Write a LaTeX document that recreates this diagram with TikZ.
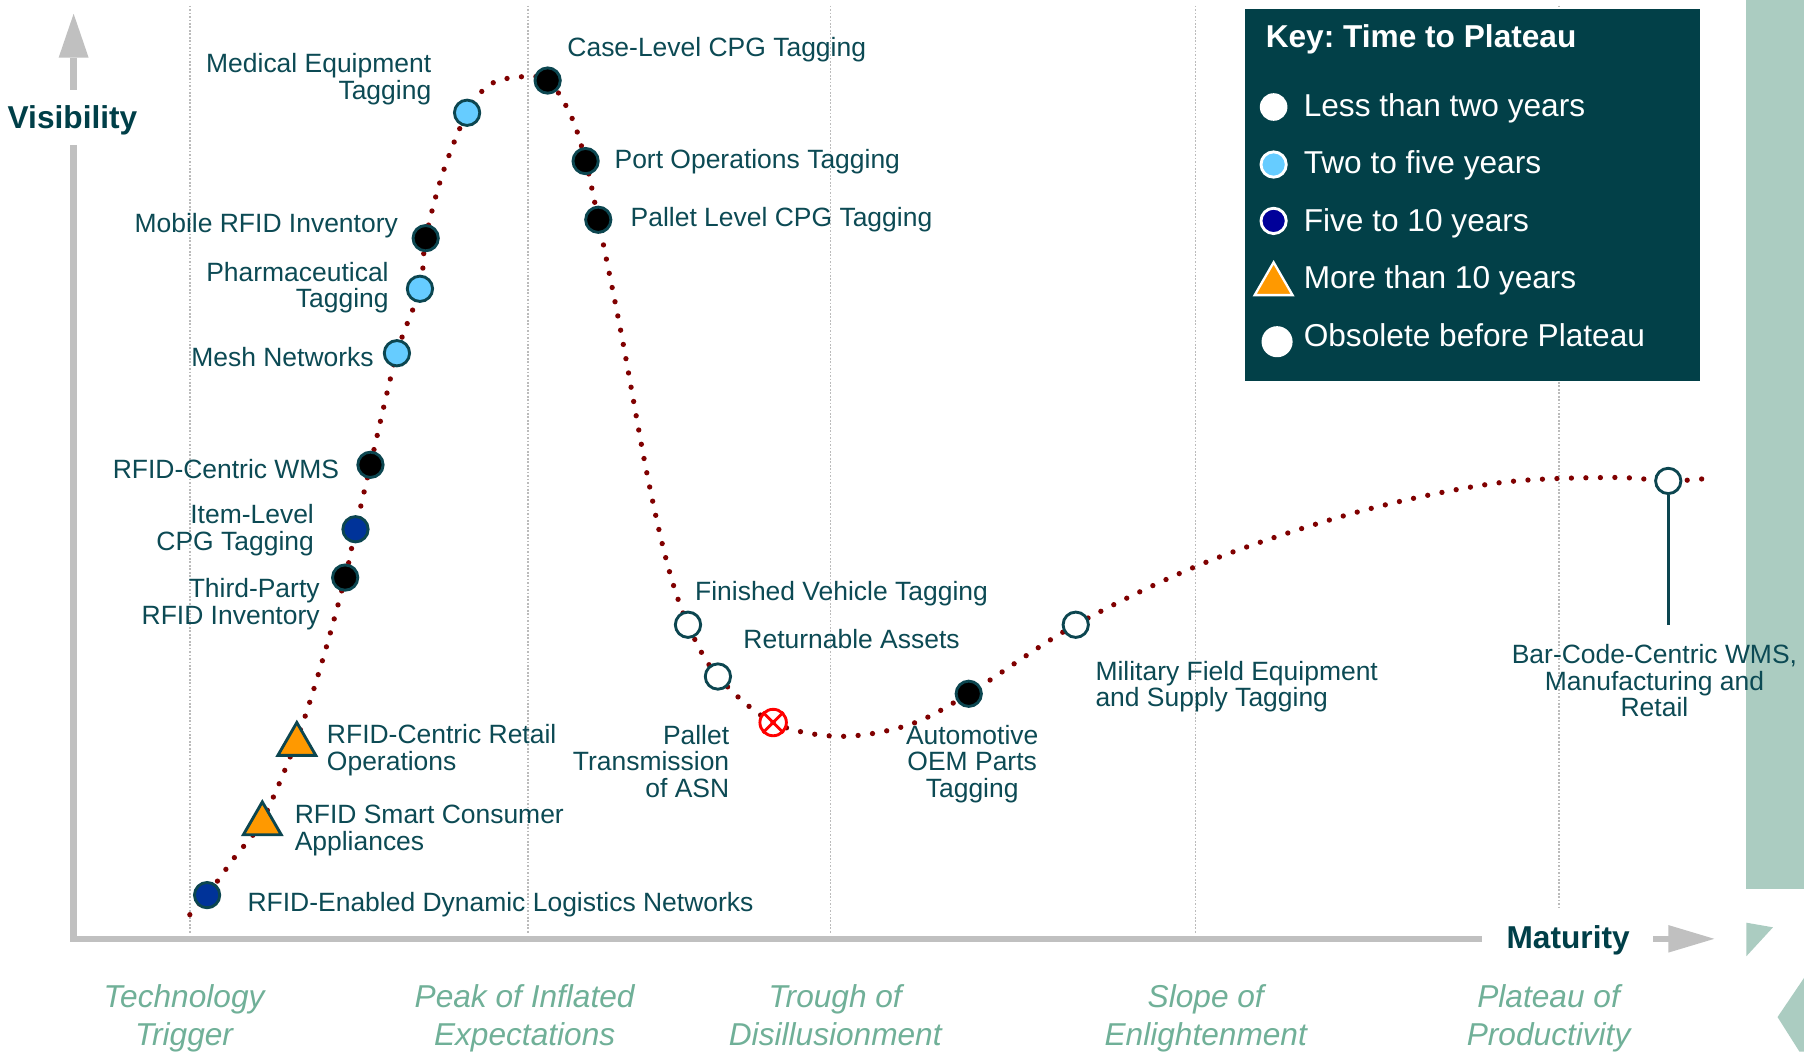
\documentclass[tikz,border=0pt]{standalone}
\usepackage{fontspec}
\setmainfont{Liberation Sans}
\usetikzlibrary{shapes.geometric}
\frenchspacing

\definecolor{labelc}{HTML}{0C4A54}
\definecolor{mkline}{HTML}{0C4650}
\definecolor{curvec}{HTML}{800000}
\definecolor{axisc}{HTML}{C0C0C0}
\definecolor{gridc}{HTML}{BBBBBB}
\definecolor{keybg}{HTML}{024048}
\definecolor{bandc}{HTML}{ABCCC1}
\definecolor{phasec}{HTML}{70B098}
\definecolor{lightb}{HTML}{66CCFF}
\definecolor{navyc}{HTML}{003399}
\definecolor{navyk}{HTML}{000099}
\definecolor{orangec}{HTML}{FF9900}
\definecolor{axtitle}{HTML}{003F48}

\newcommand\lblsize{\fontsize{23}{23}\selectfont}
\newcommand\keysize{\fontsize{27.5}{30}\selectfont}
\newcommand\phasesize{\fontsize{27.5}{33}\selectfont}

\begin{document}
\begin{tikzpicture}[x=1pt,y=-1pt,
  lbl/.style={font=\lblsize, text=labelc, inner sep=0pt, text depth=4.9pt},
  axlbl/.style={font=\keysize\bfseries, text=axtitle, inner sep=0pt, text depth=5.8pt},
  phase/.style={font=\phasesize\itshape, text=phasec, inner sep=0pt, align=center, text depth=5.8pt},
  keytxt/.style={font=\keysize, text=white, inner sep=0pt, anchor=west, text depth=5.8pt},
  mk/.style={circle, draw=mkline, line width=2.5pt, minimum size=22pt, inner sep=0pt},
  mkblack/.style={mk, fill=black},
  mkblue/.style={mk, fill=lightb},
  mknavy/.style={mk, fill=navyc},
  mkwhite/.style={mk, fill=white},
  mktri/.style={regular polygon, regular polygon sides=3, minimum size=38pt,
                draw=mkline, line width=2.5pt, fill=orangec, inner sep=0pt},
  mkobs/.style={circle, draw=red, line width=2.5pt, minimum size=23pt, inner sep=0pt},
  gridline/.style={gridc, line width=1.2pt, dash pattern=on 1.5pt off 1.5pt},
  axisline/.style={axisc, line width=5.5pt},
  axishead/.style={axisc},
]
% canvas
\path[use as bounding box, fill=white] (0,0) rectangle (1568,914);

% phase separators
\foreach \gx in {165,459,722,1039} \draw[gridline] (\gx,5) -- (\gx,812);
\draw[gridline] (1355,5) -- (1355,790);

% side band and clipped shapes at the right edge
\fill[bandc] (1518,0) rectangle (1568,773);
\fill[bandc] (1518,802) -- (1541,806) -- (1518,831) -- cycle;
\fill[bandc] (1545,884) -- (1568,850) -- (1568,914) -- (1564,914) -- cycle;

% axes
\node[axlbl] (vis) at (63,105) {Visibility};
\node[axlbl] (mat) at (1363,817) {Maturity};
\fill[axishead] (64,12) -- (77,50) -- (51,50) -- cycle;
\draw[axisline] (64,50) -- (64,78);
\draw[axisline] (64,126) -- (64,816) -- (1288,816);
\draw[axisline] (1437,816) -- (1452,816);
\fill[axishead] (1490,816) -- (1450,804) -- (1450,828) -- cycle;

% hype curve
\draw[curvec, line width=4.6pt, line cap=round, dash pattern=on 0pt off 12.6pt]
  plot[smooth, tension=0.55] coordinates {
  (165,795) (180,778) (204,745) (228,713) (258,643) (280,575) (300,502)
  (309,460) (322,404) (345,307) (365,251) (370,207) (385,150) (406,98)
  (425,74) (450,67) (476,70) (496,100) (509,140) (520,191) (540,290)
  (562,410) (580,490) (598,543) (624,588) (672,628) (730,640) (790,630)
  (842,603) (935,543) (1050,488) (1180,445) (1300,420) (1400,415)
  (1450,418) (1482,416)};

% key
\fill[keybg] (1082,8) rectangle (1478,331);
\node[font=\keysize\bfseries, text=white, inner sep=0pt, anchor=west, text depth=5.8pt] (keyt) at (1100,34) {Key: Time to Plateau};
\node[circle, fill=white, minimum size=24pt, inner sep=0pt] (k1) at (1107,93) {};
\node[circle, fill=lightb, draw=white, line width=2.5pt, minimum size=22pt, inner sep=0pt] (k2) at (1107,143) {};
\node[circle, fill=navyk, draw=white, line width=2.5pt, minimum size=22pt, inner sep=0pt] (k3) at (1107,192) {};
\node[regular polygon, regular polygon sides=3, minimum size=38pt, fill=orangec, draw=white, line width=2pt, inner sep=0pt] (k4) at (1107,247) {};
\node[circle, fill=white, minimum size=27pt, inner sep=0pt] (k5) at (1110,297) {};
\node[keytxt] (k1t) at (1133,94) {Less than two years};
\node[keytxt] (k2t) at (1133,144) {Two to five years};
\node[keytxt] (k3t) at (1133,194) {Five to 10 years};
\node[keytxt] (k4t) at (1133,244) {More than 10 years};
\node[keytxt] (k5t) at (1133,294) {Obsolete before Plateau};

% technologies on the curve
\node[mknavy]  (m1)  at (180,778) {};
\node[mktri]   (m2)  at (228,716) {};
\node[mktri]   (m3)  at (258,647) {};
\node[mkblack] (m4)  at (300,502) {};
\node[mknavy]  (m5)  at (309,460) {};
\node[mkblack] (m6)  at (322,404) {};
\node[mkblue]  (m7)  at (345,307) {};
\node[mkblue]  (m8)  at (365,251) {};
\node[mkblack] (m9)  at (370,207) {};
\node[mkblue]  (m10) at (406,98) {};
\node[mkblack] (m11) at (476,70) {};
\node[mkblack] (m12) at (509,140) {};
\node[mkblack] (m13) at (520,191) {};
\node[mkwhite] (m14) at (598,543) {};
\node[mkwhite] (m15) at (624,588) {};
\node[mkobs]   (m16) at (672,628) {};
\draw[red, line width=2.5pt] (m16.45) -- (m16.225) (m16.135) -- (m16.315);
\node[mkblack] (m17) at (842,603) {};
\node[mkwhite] (m18) at (935,543) {};
\node[mkwhite] (m19) at (1450,418) {};
\coordinate (m19end) at (1450,543);
\draw[mkline, line width=2.5pt] (m19.south) -- (m19end);

% labels
\node[lbl, anchor=west] (l1) at (215,786) {RFID-Enabled Dynamic Logistics Networks};
\node[lbl, anchor=west, align=left] (l2) at (256,722) {RFID Smart Consumer\\Appliances};
\node[lbl, anchor=west, align=left] (l3) at (284,652) {RFID-Centric Retail\\Operations};
\node[lbl, anchor=east, align=right] (l4) at (278,525) {Third-Party\\RFID Inventory};
\node[lbl, anchor=east, align=right] (l5) at (273,461) {Item-Level\\CPG Tagging};
\node[lbl, anchor=east] (l6) at (295,410) {RFID-Centric WMS};
\node[lbl, anchor=east] (l7) at (325,313) {Mesh Networks};
\node[lbl, anchor=east, align=right] (l8) at (338,250) {Pharmaceutical\\Tagging};
\node[lbl, anchor=east] (l9) at (346,196) {Mobile RFID Inventory};
\node[lbl, anchor=east, align=right] (l10) at (375,69) {Medical Equipment\\Tagging};
\node[lbl, anchor=west] (l11) at (493,43) {Case-Level CPG Tagging};
\node[lbl, anchor=west] (l12) at (534,141) {Port Operations Tagging};
\node[lbl, anchor=west] (l13) at (548,191) {Pallet Level CPG Tagging};
\node[lbl, anchor=west] (l14) at (604,516) {Finished Vehicle Tagging};
\node[lbl, anchor=west] (l15) at (646,558) {Returnable Assets};
\node[lbl, anchor=east, align=right] (l16) at (634,664) {Pallet\\Transmission\\of ASN};
\node[lbl, align=center] (l17) at (845,664) {Automotive\\OEM Parts\\Tagging};
\node[lbl, anchor=west, align=left] (l18) at (952,597) {Military Field Equipment\\and Supply Tagging};
\node[lbl, align=center] (l19) at (1438,594) {Bar-Code-Centric WMS,\\Manufacturing and\\Retail};

% phases
\node[phase] (p1) at (160,885) {Technology\\Trigger};
\node[phase] (p2) at (456,885) {Peak of Inflated\\Expectations};
\node[phase] (p3) at (726,885) {Trough of\\Disillusionment};
\node[phase] (p4) at (1048,885) {Slope of\\Enlightenment};
\node[phase] (p5) at (1346,885) {Plateau of\\Productivity};
\end{tikzpicture}
\end{document}
